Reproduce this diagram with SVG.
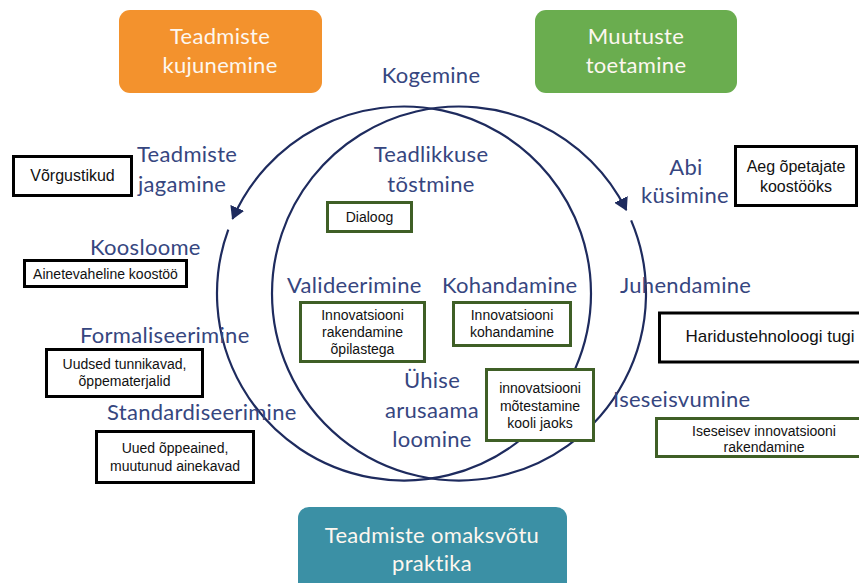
<svg xmlns="http://www.w3.org/2000/svg" width="859" height="583" viewBox="0 0 859 583">
  <style>
    .lbl { font-family: Lato, "Open Sans", sans-serif; font-size: 22px; fill: #36467f; letter-spacing: 0.3px; }
    .mid { text-anchor: middle; }
    .hdr { font-family: Lato, "Open Sans", sans-serif; font-size: 22px; fill: #fdf7ef; text-anchor: middle; letter-spacing: 0.3px; }
    .note { font-family: "Liberation Sans", Arial, sans-serif; font-size: 14px; fill: #111; text-anchor: middle; }
    .bk { fill: #fff; stroke: #000; stroke-width: 3; }
    .gr { fill: #fff; stroke: #3f5f26; stroke-width: 3; }
    .ring { fill: none; stroke: #1e2b5e; stroke-width: 2.2; }
  </style>
  <defs>
    <marker id="head" markerUnits="userSpaceOnUse" markerWidth="13" markerHeight="15" viewBox="0 0 13 15" refX="12" refY="7.5" orient="auto">
      <path d="M0,0 L13,7.5 L0,15 Z" fill="#1e2b5e"/>
    </marker>
  </defs>

  <rect width="859" height="583" fill="#fff"/>

  <!-- two overlapping cycles, each broken after its arrowhead -->
  <g id="connectors">
    <path class="ring" d="M 228.28 229.54 A 187 187 0 1 0 591 293.5 A 187 187 0 0 0 232.51 218.93" marker-end="url(#head)"/>
    <path class="ring" d="M 631.13 220.43 A 187 187 0 1 1 272 293.5 A 187 187 0 0 1 626.35 210.06" marker-end="url(#head)"/>
  </g>

  <!-- phase headers -->
  <g id="hdr-kujunemine">
    <rect x="119" y="10" width="203" height="83" rx="11" fill="#f3922d"/>
    <text class="hdr" x="220" y="44">Teadmiste</text>
    <text class="hdr" x="220" y="73">kujunemine</text>
  </g>
  <g id="hdr-toetamine">
    <rect x="535" y="10" width="202" height="83" rx="11" fill="#6aad4f"/>
    <text class="hdr" x="636" y="44">Muutuste</text>
    <text class="hdr" x="636" y="73">toetamine</text>
  </g>
  <g id="hdr-praktika">
    <rect x="298" y="507" width="269" height="95" rx="11" fill="#3b90a5"/>
    <text class="hdr" x="432" y="543">Teadmiste omaksvõtu</text>
    <text class="hdr" x="432" y="571">praktika</text>
  </g>

  <!-- stage labels -->
  <g id="lbl-kogemine"><text class="lbl mid" x="431" y="83">Kogemine</text></g>
  <g id="lbl-jagamine">
    <text class="lbl" x="137" y="162">Teadmiste</text>
    <text class="lbl" x="138" y="192">jagamine</text>
  </g>
  <g id="lbl-teadlikkus">
    <text class="lbl mid" x="431" y="162">Teadlikkuse</text>
    <text class="lbl mid" x="431" y="192">tõstmine</text>
  </g>
  <g id="lbl-abi">
    <text class="lbl mid" x="686" y="175">Abi</text>
    <text class="lbl mid" x="685" y="203">küsimine</text>
  </g>
  <g id="lbl-koosloome"><text class="lbl" x="90" y="255">Koosloome</text></g>
  <g id="lbl-formaliseerimine"><text class="lbl" x="80" y="343">Formaliseerimine</text></g>
  <g id="lbl-standardiseerimine"><text class="lbl" x="107" y="420">Standardiseerimine</text></g>
  <g id="lbl-valideerimine"><text class="lbl" x="287" y="293">Valideerimine</text></g>
  <g id="lbl-kohandamine"><text class="lbl" x="442" y="293">Kohandamine</text></g>
  <g id="lbl-uhise">
    <text class="lbl mid" x="432" y="388">Ühise</text>
    <text class="lbl mid" x="432" y="418">arusaama</text>
    <text class="lbl mid" x="432" y="447">loomine</text>
  </g>
  <g id="lbl-juhendamine"><text class="lbl" x="620" y="293">Juhendamine</text></g>
  <g id="lbl-iseseisvumine"><text class="lbl" x="613" y="407">Iseseisvumine</text></g>

  <!-- example notes, black frames -->
  <g id="note-vorgustikud">
    <rect class="bk" x="13.5" y="156.5" width="118" height="39"/>
    <text class="note" x="72.5" y="181" style="font-size:16px">Võrgustikud</text>
  </g>
  <g id="note-ainetevaheline">
    <rect class="bk" x="24.5" y="260.5" width="162" height="26"/>
    <text class="note" x="105.5" y="279">Ainetevaheline koostöö</text>
  </g>
  <g id="note-tunnikavad">
    <rect class="bk" x="46.5" y="349.5" width="156" height="47"/>
    <text class="note" x="124.5" y="369">Uudsed tunnikavad,</text>
    <text class="note" x="124.5" y="386">õppematerjalid</text>
  </g>
  <g id="note-oppeained">
    <rect class="bk" x="96.5" y="431.5" width="157" height="51"/>
    <text class="note" x="175" y="453">Uued õppeained,</text>
    <text class="note" x="175" y="471">muutunud ainekavad</text>
  </g>
  <g id="note-aeg">
    <rect class="bk" x="735.5" y="146.5" width="121" height="59"/>
    <text class="note" x="796" y="172" style="font-size:16px">Aeg õpetajate</text>
    <text class="note" x="796" y="192" style="font-size:16px">koostööks</text>
  </g>
  <g id="note-haridustehnoloog">
    <rect class="bk" x="659.5" y="313" width="230" height="49"/>
    <text class="note" x="770" y="342" style="font-size:17px">Haridustehnoloogi tugi</text>
  </g>

  <!-- example notes, green frames -->
  <g id="note-dialoog">
    <rect class="gr" x="327.5" y="202.5" width="84" height="29"/>
    <text class="note" x="369.5" y="222">Dialoog</text>
  </g>
  <g id="note-rakendamine">
    <rect class="gr" x="300.5" y="302.5" width="124" height="59"/>
    <text class="note" x="362.5" y="320">Innovatsiooni</text>
    <text class="note" x="362.5" y="337">rakendamine</text>
    <text class="note" x="362.5" y="354">õpilastega</text>
  </g>
  <g id="note-kohandamine">
    <rect class="gr" x="453.5" y="302.5" width="117" height="43"/>
    <text class="note" x="512" y="320">Innovatsiooni</text>
    <text class="note" x="512" y="337">kohandamine</text>
  </g>
  <g id="note-motestamine">
    <rect class="gr" x="486.5" y="369.5" width="107" height="71"/>
    <text class="note" x="540" y="393">innovatsiooni</text>
    <text class="note" x="540" y="411">mõtestamine</text>
    <text class="note" x="540" y="428">kooli jaoks</text>
  </g>
  <g id="note-iseseisev">
    <rect class="gr" x="656.5" y="418.5" width="230" height="38"/>
    <text class="note" x="764" y="436">Iseseisev innovatsiooni</text>
    <text class="note" x="764" y="452">rakendamine</text>
  </g>
</svg>
